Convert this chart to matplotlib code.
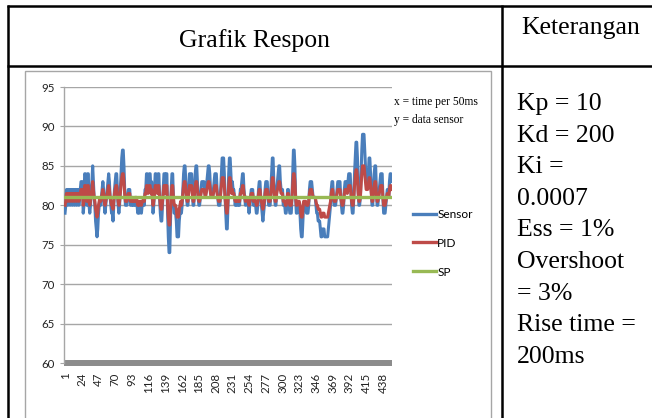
import matplotlib
matplotlib.use("Agg")
import matplotlib.pyplot as plt
from matplotlib.lines import Line2D
from matplotlib.patches import Rectangle

W, H = 652, 418

# ---------------- data ----------------
sensor = [
    79, 80, 82, 82, 80, 82, 82, 80, 82, 82,
    80, 82, 82, 80, 82, 82, 80, 82, 82, 80,
    81, 82, 83, 83, 83, 79, 80, 84, 84, 82,
    80, 84, 84, 80, 79, 80, 82, 83, 85, 83,
    81, 80, 78, 77, 76, 77, 79, 80, 81, 80,
    81, 82, 83, 82, 80, 79, 80, 81, 82, 83,
    84, 83, 81, 80, 79, 79, 78, 80, 82, 83,
    84, 84, 82, 80, 79, 80, 82, 84, 86, 87,
    87, 85, 82, 80, 80, 80, 81, 82, 82, 82,
    80, 80, 80, 81, 80, 81, 80, 81, 81, 80,
    79, 80, 79, 80, 80, 79, 80, 80, 81, 80,
    82, 82, 84, 84, 82, 83, 84, 84, 82, 83,
    81, 79, 80, 82, 84, 84, 83, 82, 84, 84,
    81, 79, 78, 78, 80, 82, 84, 84, 82, 84,
    84, 79, 76, 74, 74, 78, 82, 84, 84, 81,
    79, 79, 79, 78, 76, 76, 76, 78, 79, 80,
    79, 80, 82, 84, 85, 85, 83, 81, 80, 80,
    82, 84, 84, 84, 84, 82, 80, 80, 82, 84,
    85, 85, 83, 81, 80, 80, 81, 82, 83, 83,
    83, 83, 82, 81, 82, 83, 84, 85, 85, 84,
    82, 81, 81, 81, 82, 83, 84, 84, 84, 82,
    81, 80, 80, 80, 82, 84, 86, 86, 86, 84,
    81, 79, 77, 77, 80, 84, 86, 86, 84, 82,
    83, 82, 82, 81, 80, 81, 80, 80, 80, 81,
    80, 82, 82, 83, 84, 84, 82, 81, 80, 81,
    81, 80, 80, 79, 80, 81, 82, 82, 82, 80,
    81, 80, 80, 79, 79, 80, 82, 83, 83, 81,
    80, 79, 78, 79, 80, 82, 83, 83, 83, 81,
    80, 80, 80, 82, 84, 86, 86, 83, 81, 80,
    80, 82, 83, 84, 85, 85, 83, 82, 82, 82,
    80, 80, 80, 79, 79, 80, 82, 82, 80, 79,
    79, 79, 81, 84, 87, 87, 85, 81, 79, 79,
    80, 80, 80, 79, 77, 76, 76, 78, 80, 80,
    80, 80, 79, 79, 79, 80, 82, 83, 83, 83,
    82, 81, 81, 81, 81, 80, 79, 79, 78, 78,
    78, 77, 76, 76, 77, 77, 77, 76, 76, 76,
    76, 76, 77, 78, 79, 80, 82, 83, 83, 81,
    80, 80, 80, 81, 82, 83, 83, 83, 83, 81,
    80, 79, 79, 80, 82, 83, 83, 83, 82, 83,
    84, 84, 84, 82, 80, 79, 79, 81, 84, 86,
    88, 88, 86, 82, 80, 80, 81, 84, 87, 89,
    89, 89, 87, 85, 83, 83, 83, 84, 86, 86,
    84, 82, 80, 80, 82, 84, 85, 85, 82, 80,
    80, 81, 82, 83, 84, 84, 84, 81, 79, 79,
    79, 80, 81, 82, 82, 81, 83, 84, 84, 83,
]

pid = [
    80, 80.5, 81.5, 81.5, 80.5, 81.5, 81.5, 80.5, 81.5, 81.5,
    80.5, 81.5, 81.5, 80.5, 81.5, 81.5, 80.5, 81.5, 81.5, 80.5,
    81, 81.5, 82, 82, 82, 80, 80.5, 82.5, 82.5, 81.5,
    80.5, 82.5, 82.5, 80.5, 80, 80.5, 81.5, 82, 83, 82,
    81, 80.5, 79.5, 79, 78.5, 79, 80, 80.5, 81, 80.5,
    81, 81.5, 82, 81.5, 80.5, 80, 80.5, 81, 81.5, 82,
    82.5, 82, 81, 80.5, 80, 80, 79.5, 80.5, 81.5, 82,
    82.5, 82.5, 81.5, 80.5, 80, 80.5, 81.5, 82.5, 83.5, 84,
    84, 83, 81.5, 80.5, 80.5, 80.5, 81, 81.5, 81.5, 81.5,
    80.5, 80.5, 80.5, 81, 80.5, 81, 80.5, 81, 81, 80.5,
    80, 80.5, 80, 80.5, 80.5, 80, 80.5, 80.5, 81, 80.5,
    81.5, 81.5, 82.5, 82.5, 81.5, 82, 82.5, 82.5, 81.5, 82,
    81, 80, 80.5, 81.5, 82.5, 82.5, 82, 81.5, 82.5, 82.5,
    81, 80, 79.5, 79.5, 80.5, 81.5, 82.5, 82.5, 81.5, 82.5,
    82.5, 80, 78.5, 77.5, 77.5, 79.5, 81.5, 82.5, 82.5, 81,
    80, 80, 80, 79.5, 78.5, 78.5, 78.5, 79.5, 80, 80.5,
    80, 80.5, 81.5, 82.5, 83, 83, 82, 81, 80.5, 80.5,
    81.5, 82.5, 82.5, 82.5, 82.5, 81.5, 80.5, 80.5, 81.5, 82.5,
    83, 83, 82, 81, 80.5, 80.5, 81, 81.5, 82, 82,
    82, 82, 81.5, 81, 81.5, 82, 82.5, 83, 83, 82.5,
    81.5, 81, 81, 81, 81.5, 82, 82.5, 82.5, 82.5, 81.5,
    81, 80.5, 80.5, 80.5, 81.5, 82.5, 83.5, 83.5, 83.5, 82.5,
    81, 80, 79, 79, 80.5, 82.5, 83.5, 83.5, 82.5, 81.5,
    82, 81.5, 81.5, 81, 80.5, 81, 80.5, 80.5, 80.5, 81,
    80.5, 81.5, 81.5, 82, 82.5, 82.5, 81.5, 81, 80.5, 81,
    81, 80.5, 80.5, 80, 80.5, 81, 81.5, 81.5, 81.5, 80.5,
    81, 80.5, 80.5, 80, 80, 80.5, 81.5, 82, 82, 81,
    80.5, 80, 79.5, 80, 80.5, 81.5, 82, 82, 82, 81,
    80.5, 80.5, 80.5, 81.5, 82.5, 83.5, 83.5, 82, 81, 80.5,
    80.5, 81.5, 82, 82.5, 83, 83, 82, 81.5, 81.5, 81.5,
    80.5, 80.5, 80.5, 80, 80, 80.5, 81.5, 81.5, 80.5, 80,
    80, 80, 81, 82.5, 84, 84, 83, 81, 80, 80,
    80.5, 80.5, 80.5, 80, 79, 78.5, 78.5, 79.5, 80.5, 80.5,
    80.5, 80.5, 80, 80, 80, 80.5, 81.5, 82, 82, 82,
    81.5, 81, 81, 81, 81, 80.5, 80, 80, 79.5, 79.5,
    79.5, 79, 78.5, 78.5, 79, 79, 79, 78.5, 78.5, 78.5,
    78.5, 78.5, 79, 79.5, 80, 80.5, 81.5, 82, 82, 81,
    80.5, 80.5, 80.5, 81, 81.5, 82, 82, 82, 82, 81,
    80.5, 80, 80, 80.5, 81.5, 82, 82, 82, 81.5, 82,
    82.5, 82.5, 82.5, 81.5, 80.5, 80, 80, 81, 82.5, 83.5,
    84.5, 84.5, 83.5, 81.5, 80.5, 80.5, 81, 82.5, 84, 85,
    85, 85, 84, 83, 82, 82, 82, 82.5, 83.5, 83.5,
    82.5, 81.5, 80.5, 80.5, 81.5, 82.5, 83, 83, 81.5, 80.5,
    80.5, 81, 81.5, 82, 82.5, 82.5, 82.5, 81, 80, 80,
    80, 80.5, 81, 81.5, 81.5, 81, 82, 82.5, 82.5, 82,
]

setpoint = 81
series_names = ["Sensor", "PID", "SP"]
x_tick_labels = [1, 24, 47, 70, 93, 116, 139, 162, 185, 208, 231, 254,
                 277, 300, 323, 346, 369, 392, 415, 438]
y_ticks = [60, 65, 70, 75, 80, 85, 90, 95]

header_left = "Grafik Respon"
header_right = "Keterangan"
notes = ["Kp = 10", "Kd = 200", "Ki =", "0.0007", "Ess = 1%",
         "Overshoot", "= 3%", "Rise time =", "200ms"]
annot = ["x = time per 50ms", "y = data sensor"]

# ---------------- figure ----------------
fig = plt.figure(figsize=(W / 100, H / 100), dpi=100)


def fx(px):
    return px / W


def fy(py):
    return 1 - py / H


def hline(x0, x1, y, lw=2.0, color="black"):
    fig.add_artist(Line2D([fx(x0), fx(x1)], [fy(y), fy(y)], lw=lw, color=color,
                          transform=fig.transFigure, solid_capstyle="butt"))


def vline(x, y0, y1, lw=2.0, color="black"):
    fig.add_artist(Line2D([fx(x), fx(x)], [fy(y0), fy(y1)], lw=lw, color=color,
                          transform=fig.transFigure, solid_capstyle="butt"))


# table borders
hline(7, 652, 6, lw=1.8)
hline(7, 652, 66, lw=1.8)
vline(7.5, 5, 418, lw=1.8)
vline(502, 5, 418, lw=1.8)

serif = ["Liberation Serif", "DejaVu Serif"]
fig.text(fx(254), fy(41), header_left, ha="center", va="center",
         fontsize=18.5, family=serif)
fig.text(fx(581), fy(28), header_right, ha="center", va="center",
         fontsize=18.5, family=serif)

for i, t in enumerate(notes):
    fig.text(fx(517), fy(104 + i * 31.6), t, ha="left", va="center",
             fontsize=18.5, family=serif)

# chart area border
fig.add_artist(Rectangle((fx(25), fy(430)), fx(491) - fx(25), fy(71) - fy(430),
                         transform=fig.transFigure, fill=False,
                         edgecolor="#a6a6a6", lw=1.0))

# plot area
ax = fig.add_axes([fx(64.3), fy(363), fx(392) - fx(64.3), fy(87) - fy(363)])
idx = list(range(1, len(sensor) + 1))
ax.plot(idx, sensor, color="#4a7ebb", lw=2.2, solid_joinstyle="round",
        label=series_names[0], zorder=3)
ax.plot(idx, pid, color="#be4b48", lw=2.2, solid_joinstyle="round",
        label=series_names[1], zorder=4)
ax.plot(idx, [setpoint] * len(idx), color="#98b954", lw=2.4,
        label=series_names[2], zorder=5)

ax.set_xlim(0.0, 450.5)
ax.set_ylim(60, 95)
ax.set_yticks(y_ticks)
ax.set_xticks(x_tick_labels)
ax.set_xticklabels([str(v) for v in x_tick_labels], rotation=90, va="top")
ax.grid(axis="y", color="#a6a6a6", lw=1.0)
ax.set_axisbelow(True)
for s in ["top", "right", "bottom"]:
    ax.spines[s].set_visible(False)
ax.spines["left"].set_color("#a6a6a6")
ax.spines["left"].set_linewidth(1.0)
ax.axhline(60, color="#8c8c8c", lw=4.3, zorder=2, clip_on=False,
           solid_capstyle="butt")

tick_font = ["Lato", "DejaVu Sans"]
ax.tick_params(axis="y", length=3, color="#a6a6a6", pad=4, labelsize=8.3,
               labelcolor="#222222")
ax.tick_params(axis="x", length=0, pad=7, labelsize=8.3, labelcolor="#222222")
for lab in ax.get_xticklabels() + ax.get_yticklabels():
    lab.set_family(tick_font)

# legend (manual placement like Excel)
leg = ax.legend(loc="upper left", bbox_to_anchor=(fx(402), fy(198)),
                bbox_transform=fig.transFigure, frameon=False,
                handlelength=1.95, handletextpad=0.1, labelspacing=1.5,
                prop={"family": tick_font, "size": 8.6})
for h in leg.get_lines():
    h.set_linewidth(2.4)

# annotation text
for i, t in enumerate(annot):
    fig.text(fx(394), fy(102 + i * 18), t, ha="left", va="center",
             fontsize=8.3, family=serif)

fig.savefig("out.png", dpi=100)
